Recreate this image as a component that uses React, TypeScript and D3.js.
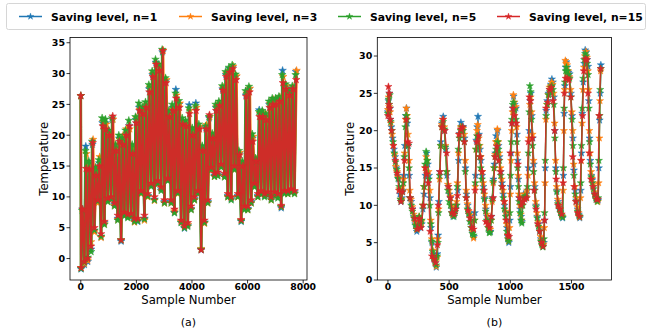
import React from "react";
import * as d3 from "d3";

// ---------------- data ----------------
const seriesLabels = ["Saving level, n=1", "Saving level, n=3", "Saving level, n=5", "Saving level, n=15"];
const seriesColors = ["#1f77b4", "#ff7f0e", "#2ca02c", "#d62728"];

// (a) long record: first reading, then per-cycle low/high values
const leftFirstReading = 26.4;
const leftCycleSample = [10,130,250,370,490,610,730,850,970,1090,1210,1330,1450,1570,1690,1810,1930,2050,2170,2290,2410,2530,2650,2770,2890,3010,3130,3250,3370,3490,3610,3730,3850,3970,4090,4210,4330,4450,4570,4690,4810,4930,5050,5170,5290,5410,5530,5650,5770,5890,6010,6130,6250,6370,6490,6610,6730,6850,6970,7090,7210,7330,7450,7570,7690];
// sample offset (within a cycle) of the daily high for each saving level
const leftHighOffset = [50, 72, 38, 60];

const leftHighN1 = [8.0,18.2,15.5,18.5,14.0,15.5,22.0,22.0,20.5,22.5,18.0,19.5,19.0,20.0,21.5,17.8,22.5,24.5,24.0,24.8,27.5,29.8,31.8,31.0,33.5,28.8,23.5,24.5,27.4,25.0,22.3,21.8,24.9,20.5,25.2,21.3,18.0,21.2,22.8,19.8,24.5,25.0,27.5,29.8,30.8,31.0,29.5,17.0,15.5,26.5,27.5,19.5,16.0,24.1,23.5,23.0,25.0,25.6,25.7,26.1,30.5,27.7,26.7,27.5,30.3];
const leftHighN3 = [7.5,17.0,15.0,19.3,14.5,16.5,22.2,21.8,20.3,22.6,18.2,19.3,20.0,21.0,21.0,18.0,22.8,24.2,24.3,25.0,27.8,30.0,31.5,31.2,33.8,29.0,23.3,24.2,26.5,25.2,22.0,22.0,24.0,20.8,24.5,21.4,17.8,21.7,23.0,20.0,24.6,25.2,27.8,30.0,30.5,31.2,29.6,17.2,15.3,26.8,27.6,19.8,16.1,23.5,23.7,23.2,25.1,25.8,25.6,26.2,29.5,28.0,27.0,27.8,30.5];
const leftHighN5 = [7.8,17.5,15.8,19.0,14.8,16.0,22.8,22.6,20.8,22.8,18.5,20.0,19.6,20.8,22.4,18.5,23.0,25.2,24.6,25.4,28.2,30.4,32.3,31.5,33.9,29.3,24.0,25.0,26.8,25.6,22.8,22.4,24.4,21.2,24.8,21.8,18.3,21.5,23.0,20.3,25.0,25.5,28.0,30.3,31.0,31.4,29.9,17.5,15.8,27.2,27.9,20.2,16.3,23.8,24.0,23.5,25.5,26.0,26.0,26.3,29.8,28.3,27.2,28.0,29.8];
const leftHighN15 = [8.0,14.6,14.5,18.8,13.5,15.0,21.5,21.0,20.0,23.1,17.5,19.0,18.5,20.0,21.5,17.0,22.0,24.0,23.5,24.5,27.0,29.5,31.5,30.5,33.7,28.5,23.0,24.0,26.0,24.5,21.8,21.5,23.5,20.0,24.0,21.0,17.5,21.0,23.3,19.5,24.0,24.8,27.3,29.5,30.2,30.8,29.0,16.8,15.0,26.3,27.0,19.0,15.8,23.0,23.0,22.5,24.5,25.0,25.0,25.5,28.5,27.5,26.5,27.5,29.0];

const leftLowN1 = [-1.7,-1.0,-0.5,1.5,4.5,9.2,3.5,5.8,9.5,9.8,8.8,6.5,2.8,7.2,6.8,7.0,6.2,6.0,10.8,6.5,10.2,11.9,9.6,12.4,11.3,9.2,12.9,9.2,7.5,10.8,5.9,4.9,5.4,8.1,9.7,10.8,1.4,5.9,9.2,14.6,13.5,13.7,15.1,13.5,10.2,9.7,14.6,10.2,6.0,8.1,8.1,9.2,11.9,10.2,10.8,10.2,10.5,9.7,10.5,10.0,8.2,10.8,10.8,11.0,10.8];
const leftLowN3 = [-1.5,-0.8,-0.3,2.7,4.3,9.0,3.4,5.6,9.3,10.0,8.6,6.3,3.0,7.0,7.0,6.8,5.9,6.2,10.5,6.2,10.0,12.0,9.4,12.2,11.5,9.0,12.7,9.0,7.7,10.5,6.0,5.1,5.5,8.0,9.5,10.6,1.6,5.7,9.0,14.3,13.3,13.5,14.9,13.3,10.0,9.9,14.4,10.0,6.2,8.0,7.9,9.0,11.7,10.0,10.6,10.4,10.3,9.5,10.3,10.2,8.4,10.6,10.5,10.8,10.6];
const leftLowN5 = [-1.6,-0.6,0.2,1.1,4.6,9.3,3.6,5.5,9.2,9.6,8.5,6.2,3.0,6.9,6.6,6.8,6.0,6.1,10.6,6.4,10.1,11.7,9.5,12.1,11.0,9.0,12.6,9.0,7.4,10.6,5.8,5.0,5.2,7.9,9.5,10.5,1.5,5.8,9.0,14.4,13.3,13.4,14.8,13.2,10.0,9.5,14.4,10.0,6.1,7.9,7.9,9.0,11.6,10.0,10.5,10.0,10.3,9.5,10.2,9.8,8.4,10.5,10.5,10.7,10.5];
const leftLowN15 = [-1.5,-0.5,0.0,2.0,5.0,9.5,4.0,6.0,9.8,10.0,9.0,7.0,3.0,7.5,7.2,7.3,6.5,6.5,11.0,7.0,10.5,12.2,10.0,12.6,11.6,9.5,13.0,9.5,8.0,11.0,6.2,5.3,5.8,8.5,10.0,11.0,1.4,6.2,9.5,14.8,13.8,14.0,15.3,13.8,10.5,10.0,15.0,10.5,6.3,8.5,8.5,9.5,12.2,10.5,11.0,10.5,10.8,10.0,10.8,10.5,8.6,11.0,11.0,11.3,11.0];

// (b) short record: [sample, temperature]
const rightN1: [number, number][] = [[0,22.5],[4,24.0],[8,22.8],[12,25.0],[16,23.0],[20,21.5],[28,20.5],[38,19.0],[48,17.5],[58,16.5],[68,15.0],[78,14.0],[88,13.5],[98,11.5],[106,10.5],[114,11.0],[122,12.0],[130,14.0],[138,18.0],[146,22.0],[152,23.0],[158,21.0],[166,18.0],[174,14.0],[180,11.0],[190,10.5],[200,9.5],[212,8.5],[224,7.5],[236,6.5],[246,7.0],[256,8.3],[266,7.0],[276,7.5],[286,9.5],[296,11.5],[306,14.0],[316,17.0],[326,15.5],[336,14.0],[344,11.0],[352,7.0],[360,5.0],[368,3.5],[376,3.0],[386,2.3],[395,1.7],[404,3.5],[410,6.0],[416,10.5],[424,14.5],[432,18.5],[442,21.0],[452,21.9],[462,20.0],[472,17.5],[482,14.0],[492,12.5],[502,11.5],[512,11.0],[522,9.5],[532,8.5],[542,8.8],[552,9.5],[562,10.0],[570,12.0],[578,16.0],[586,19.6],[596,21.1],[606,20.3],[616,20.5],[626,19.0],[634,15.0],[642,11.5],[652,10.0],[662,9.0],[672,8.5],[682,7.5],[692,6.3],[702,5.8],[710,9.0],[716,14.0],[722,18.7],[730,20.5],[736,21.9],[744,19.5],[752,17.5],[760,16.0],[770,14.0],[780,12.5],[790,11.0],[800,9.5],[810,8.5],[820,7.5],[830,6.5],[838,6.5],[846,8.5],[854,11.0],[862,13.5],[870,15.5],[878,17.0],[884,19.3],[890,18.0],[896,20.0],[904,18.0],[912,16.5],[922,14.5],[932,13.0],[942,11.5],[952,10.0],[962,9.0],[972,7.0],[980,5.8],[988,5.0],[996,8.0],[1002,12.5],[1008,17.0],[1014,21.0],[1020,23.0],[1027,24.6],[1036,23.5],[1046,23.0],[1054,19.5],[1060,16.0],[1066,13.5],[1072,11.0],[1080,9.5],[1088,8.5],[1094,7.8],[1102,10.5],[1110,11.5],[1120,11.0],[1130,11.5],[1140,12.0],[1148,15.0],[1155,20.0],[1162,24.0],[1168,25.0],[1176,22.0],[1184,19.0],[1192,15.5],[1200,12.5],[1210,10.0],[1220,8.5],[1230,7.5],[1240,6.7],[1250,5.5],[1258,5.0],[1266,4.5],[1274,5.0],[1280,8.0],[1286,15.0],[1293,22.7],[1302,24.0],[1312,25.0],[1322,25.5],[1332,26.2],[1340,26.9],[1348,26.5],[1356,24.5],[1364,20.0],[1372,15.0],[1380,12.0],[1390,10.5],[1400,9.8],[1410,9.2],[1420,8.5],[1428,8.3],[1434,14.0],[1440,22.3],[1446,26.0],[1452,28.5],[1458,29.2],[1466,28.5],[1476,27.8],[1485,27.6],[1495,25.0],[1505,22.0],[1512,19.0],[1520,14.7],[1530,12.0],[1540,10.7],[1550,9.5],[1560,8.8],[1568,8.3],[1576,12.0],[1582,17.0],[1588,22.3],[1596,26.5],[1604,29.0],[1612,30.8],[1620,30.5],[1628,29.5],[1636,28.6],[1642,24.0],[1648,19.0],[1654,16.0],[1662,14.0],[1670,13.4],[1680,12.5],[1690,11.6],[1700,11.0],[1710,10.7],[1718,10.7],[1724,15.0],[1730,21.4],[1735,25.0],[1740,28.8]];

const rightN3: [number, number][] = [[0,22.8],[6,24.5],[10,23.2],[18,22.5],[24,21.0],[34,19.5],[44,18.0],[54,16.8],[64,15.2],[74,14.5],[84,13.8],[94,12.2],[104,10.8],[112,10.8],[120,12.5],[128,13.5],[136,17.0],[144,21.5],[150,23.0],[156,22.0],[164,19.5],[172,16.0],[178,12.0],[188,10.8],[198,9.8],[210,8.8],[222,7.8],[234,6.8],[244,7.2],[254,8.5],[264,7.2],[274,7.8],[284,10.0],[294,12.5],[304,15.0],[312,16.5],[322,16.0],[332,14.5],[342,12.0],[350,8.0],[358,5.5],[366,4.0],[374,3.2],[384,2.5],[394,1.8],[402,3.0],[408,5.5],[414,9.5],[422,13.5],[430,18.0],[440,20.8],[450,21.5],[460,20.5],[470,18.0],[480,14.5],[490,12.8],[500,12.0],[510,11.2],[520,10.0],[530,8.7],[540,9.0],[550,9.8],[560,10.5],[568,13.0],[576,17.0],[584,19.5],[594,20.5],[604,20.0],[614,20.3],[624,19.5],[632,16.0],[640,12.0],[650,10.2],[660,9.2],[670,8.7],[680,7.8],[690,6.5],[700,5.6],[708,8.0],[714,12.5],[720,17.5],[728,20.0],[734,20.8],[742,19.0],[750,18.0],[758,16.5],[768,14.5],[778,13.0],[788,11.5],[798,10.0],[808,8.8],[818,7.8],[828,6.8],[836,6.8],[844,8.0],[852,10.5],[860,13.0],[868,15.0],[876,16.8],[882,18.5],[888,18.5],[894,20.2],[902,18.5],[910,17.0],[920,15.0],[930,13.5],[940,12.0],[950,10.5],[960,9.2],[970,7.5],[978,6.0],[986,5.2],[994,7.0],[1000,11.5],[1006,16.0],[1012,20.0],[1018,22.5],[1025,24.8],[1034,23.8],[1044,23.2],[1052,20.5],[1058,17.0],[1064,14.0],[1070,11.5],[1078,10.0],[1086,8.8],[1092,8.0],[1100,10.0],[1108,11.2],[1118,11.5],[1128,11.2],[1138,12.0],[1146,14.0],[1153,19.0],[1160,23.5],[1166,24.5],[1174,22.5],[1182,19.5],[1190,16.0],[1198,13.0],[1208,10.5],[1218,9.0],[1228,7.8],[1238,7.0],[1248,5.8],[1256,5.2],[1264,4.6],[1272,4.8],[1278,7.0],[1284,13.0],[1291,21.5],[1300,23.5],[1310,24.8],[1320,25.8],[1330,26.0],[1338,26.5],[1346,26.2],[1354,25.0],[1362,21.0],[1370,16.0],[1378,12.5],[1388,10.8],[1398,10.0],[1408,9.5],[1418,8.8],[1426,8.5],[1432,12.0],[1438,20.0],[1444,25.5],[1450,29.4],[1456,29.0],[1464,28.8],[1474,28.0],[1483,27.2],[1493,25.5],[1503,22.5],[1510,20.0],[1518,15.5],[1528,12.5],[1538,11.0],[1548,9.8],[1558,9.0],[1566,8.4],[1574,11.0],[1580,16.0],[1586,21.0],[1594,25.5],[1602,28.5],[1610,30.0],[1618,30.6],[1626,29.8],[1634,28.0],[1640,25.5],[1646,20.0],[1652,17.0],[1660,14.5],[1668,13.6],[1678,12.8],[1688,11.8],[1698,11.2],[1708,10.9],[1716,10.5],[1722,13.0],[1728,19.0],[1733,24.0],[1738,28.0]];

const rightN5: [number, number][] = [[0,22.3],[5,24.2],[10,23.5],[15,24.8],[22,21.2],[32,20.0],[42,18.5],[52,17.0],[62,15.8],[72,14.8],[82,13.6],[92,12.5],[102,10.8],[110,10.6],[118,11.8],[126,13.0],[134,16.5],[142,20.5],[150,22.0],[156,21.5],[164,18.0],[172,15.0],[180,11.0],[190,10.0],[200,9.2],[212,8.3],[224,7.3],[236,6.8],[246,7.2],[256,8.5],[266,7.5],[276,8.0],[286,10.0],[296,12.5],[304,15.5],[312,17.2],[322,16.0],[334,13.5],[342,10.0],[350,7.5],[358,5.2],[366,3.8],[374,3.0],[384,2.6],[394,2.0],[402,3.2],[408,5.0],[414,9.0],[422,14.0],[430,18.0],[440,20.5],[450,21.2],[460,20.2],[470,17.8],[480,14.5],[490,12.0],[500,10.5],[510,10.0],[520,9.0],[530,8.8],[540,8.5],[550,9.2],[560,10.0],[568,12.5],[576,17.5],[584,19.0],[594,20.0],[604,20.5],[614,20.0],[624,18.5],[632,14.5],[640,11.0],[650,9.5],[660,8.8],[670,7.8],[680,7.0],[690,6.2],[700,6.0],[708,8.0],[714,13.0],[720,17.5],[728,19.3],[734,19.2],[742,18.0],[750,16.5],[758,15.0],[768,13.5],[778,12.0],[788,10.8],[798,9.2],[808,8.0],[818,7.0],[828,6.3],[836,6.4],[844,8.0],[852,10.8],[860,13.2],[868,15.0],[876,16.5],[884,17.5],[890,17.0],[896,18.5],[904,17.5],[912,16.0],[922,14.0],[932,12.5],[942,11.0],[952,9.5],[962,8.5],[972,6.5],[980,5.5],[988,5.2],[996,9.0],[1002,14.0],[1008,18.5],[1014,21.5],[1020,23.5],[1027,23.8],[1036,22.8],[1046,21.5],[1054,18.5],[1060,15.0],[1066,12.5],[1072,10.5],[1080,9.0],[1088,8.0],[1094,7.6],[1102,10.0],[1110,11.0],[1120,11.2],[1130,11.0],[1140,12.5],[1148,17.0],[1155,22.5],[1160,26.0],[1166,25.2],[1174,21.5],[1182,18.0],[1190,14.5],[1200,12.0],[1210,9.8],[1220,8.3],[1230,7.2],[1240,6.5],[1250,5.2],[1258,4.7],[1266,4.4],[1274,5.5],[1280,9.0],[1286,16.0],[1293,22.0],[1302,23.5],[1312,24.8],[1322,25.2],[1332,25.8],[1340,26.0],[1348,25.5],[1356,23.5],[1364,19.0],[1372,14.5],[1380,11.8],[1390,10.2],[1400,9.5],[1410,9.0],[1420,8.6],[1428,8.4],[1434,15.0],[1440,23.0],[1446,26.5],[1452,28.0],[1458,28.5],[1466,28.0],[1476,27.5],[1485,27.0],[1495,24.5],[1505,21.5],[1512,18.0],[1520,14.0],[1530,11.5],[1540,10.5],[1550,9.2],[1560,8.6],[1568,8.5],[1576,13.0],[1582,18.0],[1588,23.0],[1596,27.0],[1604,29.5],[1612,30.3],[1620,30.0],[1628,29.0],[1636,27.5],[1642,23.0],[1648,18.5],[1654,15.5],[1662,13.8],[1670,13.0],[1680,12.2],[1690,11.4],[1700,10.8],[1710,10.5],[1718,11.0],[1724,16.0],[1730,22.0],[1735,25.5],[1740,28.3]];

const rightN15: [number, number][] = [[0,22.0],[4,25.9],[8,23.5],[12,25.0],[16,23.0],[20,21.5],[30,20.0],[45,18.0],[60,16.0],[75,14.3],[90,12.0],[106,10.5],[120,11.8],[135,16.0],[150,21.5],[160,18.5],[172,18.3],[182,11.0],[200,9.5],[220,8.2],[240,6.8],[256,8.2],[270,7.0],[290,10.0],[305,15.0],[318,14.2],[330,13.0],[345,6.5],[360,3.2],[375,2.8],[390,2.3],[404,4.7],[412,10.0],[425,14.5],[440,20.5],[450,21.5],[465,20.0],[480,17.0],[495,12.5],[510,11.0],[525,9.0],[540,8.8],[555,9.5],[568,11.3],[580,19.5],[595,20.2],[610,20.5],[625,18.5],[640,11.0],[655,9.3],[670,8.3],[685,7.0],[700,6.8],[712,12.0],[725,18.5],[740,19.3],[755,16.5],[770,14.5],[785,12.0],[800,7.8],[815,7.5],[830,7.0],[845,8.5],[860,11.0],[875,16.5],[890,17.9],[905,16.0],[920,14.5],[935,12.5],[950,10.5],[965,8.0],[980,6.0],[990,5.8],[1000,17.0],[1012,21.0],[1022,23.0],[1035,22.0],[1050,21.0],[1062,15.5],[1075,11.0],[1090,10.0],[1105,10.5],[1120,10.8],[1135,11.0],[1148,18.5],[1156,24.5],[1165,24.0],[1180,19.0],[1195,12.0],[1210,9.5],[1225,7.5],[1240,6.5],[1255,5.0],[1268,4.5],[1280,8.0],[1292,23.0],[1305,23.8],[1320,25.5],[1335,25.8],[1350,24.0],[1362,20.0],[1375,13.5],[1390,10.0],[1405,9.5],[1420,8.8],[1432,13.0],[1442,25.0],[1452,27.0],[1465,27.0],[1480,26.8],[1495,24.5],[1510,16.5],[1522,12.5],[1535,10.5],[1550,9.0],[1565,8.5],[1578,16.0],[1590,22.0],[1600,28.0],[1612,29.6],[1625,29.5],[1635,25.0],[1645,17.0],[1660,13.5],[1675,12.5],[1690,11.5],[1705,10.8],[1716,10.8],[1726,22.0],[1738,28.3]];

const leftXTicks = [0, 2000, 4000, 6000, 8000];
const leftYTicks = [0, 5, 10, 15, 20, 25, 30, 35];
const rightXTicks = [0, 500, 1000, 1500];
const rightYTicks = [0, 5, 10, 15, 20, 25, 30];
const panelCaptions = ["(a)", "(b)"];
const xAxisTitle = "Sample Number";
const yAxisTitle = "Temperature";

// ---------------- helpers ----------------
const FONT = "DejaVu Sans, Liberation Sans, sans-serif";
const legendStar = d3.symbol().type(d3.symbolStar).size(14)() as string;

function buildLeftSeries(lows: number[], highs: number[], offset: number): [number, number][] {
  const pts: [number, number][] = [[0, leftFirstReading]];
  leftCycleSample.forEach((s, i) => {
    pts.push([s, lows[i]]);
    pts.push([s + offset, highs[i]]);
  });
  return pts;
}

const leftSeries = [
  buildLeftSeries(leftLowN1, leftHighN1, leftHighOffset[0]),
  buildLeftSeries(leftLowN3, leftHighN3, leftHighOffset[1]),
  buildLeftSeries(leftLowN5, leftHighN5, leftHighOffset[2]),
  buildLeftSeries(leftLowN15, leftHighN15, leftHighOffset[3]),
];
const rightSeries = [rightN1, rightN3, rightN5, rightN15];

type PanelProps = {
  id: string;
  x0: number; x1: number; y0: number; y1: number;
  xDomain: [number, number]; yDomain: [number, number];
  xTicks: number[]; yTicks: number[];
  series: [number, number][][];
  yTitleX: number;
  caption: string;
  lineWidths: number[];
  lineOpacity: number;
  markerSize: number;
};

function Panel(p: PanelProps) {
  const x = d3.scaleLinear().domain(p.xDomain).range([p.x0, p.x1]);
  const y = d3.scaleLinear().domain(p.yDomain).range([p.y1, p.y0]);
  const line = d3.line<[number, number]>().x(d => x(d[0])).y(d => y(d[1]));
  const star = d3.symbol().type(d3.symbolStar).size(p.markerSize)() as string;
  const cx = (p.x0 + p.x1) / 2;
  const cy = (p.y0 + p.y1) / 2;
  return (
    <g>
      <defs>
        <clipPath id={p.id}>
          <rect x={p.x0} y={p.y0} width={p.x1 - p.x0} height={p.y1 - p.y0} />
        </clipPath>
      </defs>
      <g clipPath={`url(#${p.id})`}>
        {p.series.map((pts, k) => (
          <g key={k}>
            <path d={line(pts) as string} fill="none" stroke={seriesColors[k]} strokeWidth={p.lineWidths[k]} strokeOpacity={p.lineOpacity} strokeLinejoin="round" />
            {pts.map((d, i) => (
              <path key={i} d={star} transform={`translate(${x(d[0])},${y(d[1])})`} fill={seriesColors[k]} stroke={seriesColors[k]} strokeWidth={0.5} />
            ))}
          </g>
        ))}
      </g>
      <rect x={p.x0} y={p.y0} width={p.x1 - p.x0} height={p.y1 - p.y0} fill="none" stroke="#000" strokeWidth={0.8} />
      {p.xTicks.map(t => (
        <g key={"x" + t}>
          <line x1={x(t)} x2={x(t)} y1={p.y1} y2={p.y1 + 3.5} stroke="#000" strokeWidth={0.8} />
          <text x={x(t)} y={p.y1 + 10.3} textAnchor="middle" fontFamily={FONT} fontWeight="bold" fontSize={9.3}>{t}</text>
        </g>
      ))}
      {p.yTicks.map(t => (
        <g key={"y" + t}>
          <line x1={p.x0 - 3.5} x2={p.x0} y1={y(t)} y2={y(t)} stroke="#000" strokeWidth={0.8} />
          <text x={p.x0 - 5} y={y(t)} dy="0.36em" textAnchor="end" fontFamily={FONT} fontWeight="bold" fontSize={9.5}>{t}</text>
        </g>
      ))}
      <text x={cx} y={304} textAnchor="middle" fontFamily={FONT} fontSize={11.7}>{xAxisTitle}</text>
      <text transform={`translate(${p.yTitleX},${cy}) rotate(-90)`} textAnchor="middle" fontFamily={FONT} fontSize={11.7}>{yAxisTitle}</text>
      <text x={cx} y={325.5} textAnchor="middle" fontFamily={FONT} fontSize={11}>{p.caption}</text>
    </g>
  );
}

const legendX = [19, 179, 338, 497];

export default function App() {
  return (
    <svg width={652} height={330} style={{ position: "absolute", left: 0, top: 0, background: "#fff" }}>
      <rect x={0} y={0} width={652} height={330} fill="#fff" />
      <Panel id="clipA" x0={70} x1={307} y0={37.5} y1={280} xDomain={[-388, 8138]} yDomain={[-3.48, 35.85]}
        xTicks={leftXTicks} yTicks={leftYTicks} series={leftSeries} yTitleX={48} caption={panelCaptions[0]}
        lineWidths={[2.4, 2.6, 2.6, 1.9]} lineOpacity={0.95} markerSize={18} />
      <Panel id="clipB" x0={377.3} x1={611.5} y0={37.5} y1={280} xDomain={[-87, 1827]} yDomain={[0, 32.48]}
        xTicks={rightXTicks} yTicks={rightYTicks} series={rightSeries} yTitleX={354} caption={panelCaptions[1]}
        lineWidths={[1.4, 1.4, 1.4, 1.4]} lineOpacity={0.85} markerSize={16} />
      <g>
        <rect x={6.5} y={3.5} width={639} height={26} rx={2} fill="#fff" fillOpacity={0.85} stroke="#cccccc" strokeWidth={0.8} />
        {seriesLabels.map((lab, k) => (
          <g key={lab}>
            <line x1={legendX[k]} x2={legendX[k] + 23} y1={16.5} y2={16.5} stroke={seriesColors[k]} strokeWidth={1.5} />
            <path d={legendStar} transform={`translate(${legendX[k] + 11.5},16.5)`} fill={seriesColors[k]} stroke={seriesColors[k]} strokeWidth={0.4} />
            <text x={legendX[k] + 32} y={20.5} fontFamily={FONT} fontWeight="bold" fontSize={10.8}>{lab}</text>
          </g>
        ))}
      </g>
    </svg>
  );
}
